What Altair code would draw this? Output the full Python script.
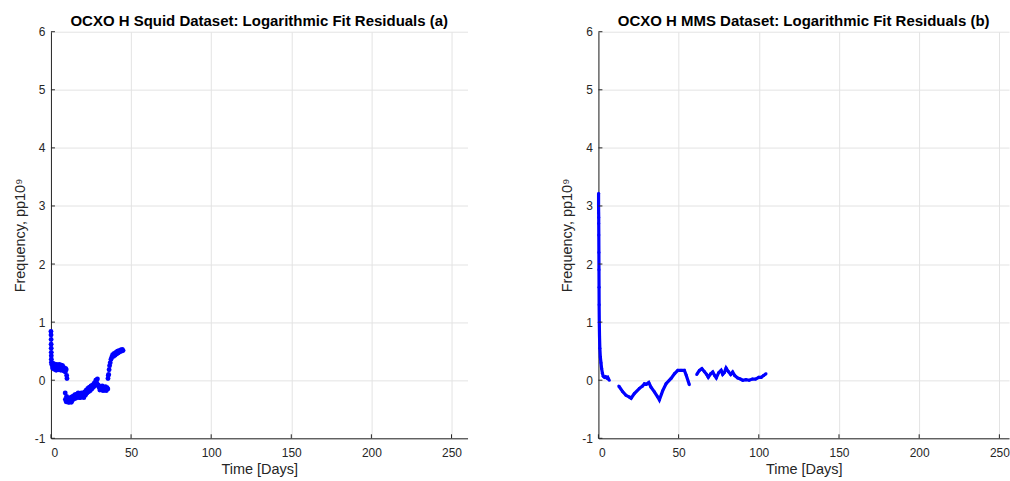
import altair as alt
import pandas as pd

# ---------------- data ----------------
left_days = [0.0, 0.05, 0.1, 0.1, 0.15, 0.2, 0.2, 0.25, 0.3,
             0.5, 1.0, 1.25, 1.5, 2.0, 2.25, 2.5, 3.0, 3.25, 3.5, 4.0, 4.25, 4.5,
             5.0, 5.25, 5.5, 6.0, 6.25, 6.5, 7.0, 7.25, 7.5, 8.0, 8.25, 8.5, 9.0,
             9.25, 9.5, 9.8, 10.0,
             8.9, 9.0, 9.5, 9.75, 10.0, 10.5, 10.75, 11.0, 11.5, 11.75, 12.0, 12.5,
             12.75, 13.0, 13.5, 13.75, 14.0, 14.5, 15.0, 15.5, 16.0, 16.5, 17.0,
             17.5, 18.0, 18.5, 19.0, 19.5, 20.0, 20.5, 21.0, 21.5, 22.0, 22.5,
             23.0, 23.5, 24.0, 24.5, 25.0, 25.5, 26.0, 26.5, 27.0, 27.5, 28.0,
             28.5, 29.0, 29.5, 30.0, 30.5, 31.0, 31.5, 32.0, 32.5, 33.0, 33.5,
             34.0, 34.5, 35.0, 35.5,
             35.6, 35.8, 36.0, 36.3, 36.6, 37.0, 37.5, 38.0, 38.5, 39.0, 39.5,
             40.0, 40.5, 41.0, 41.5, 42.0, 42.5, 43.0, 43.5, 44.0, 44.5, 45.0]
left_vals = [0.84, 0.78, 0.70, 0.62, 0.55, 0.48, 0.42, 0.36, 0.31,
             0.27, 0.21, 0.24, 0.29, 0.19, 0.27, 0.25, 0.20, 0.17, 0.27, 0.22, 0.20, 0.26,
             0.18, 0.27, 0.24, 0.20, 0.17, 0.26, 0.19, 0.25, 0.23, 0.16, 0.20, 0.21, 0.14,
             0.20, 0.18, 0.08, 0.03,
             -0.22, -0.33, -0.37, -0.28, -0.30, -0.36, -0.38, -0.32, -0.38, -0.33, -0.30, -0.35,
             -0.38, -0.29, -0.34, -0.30, -0.27, -0.32, -0.25, -0.31, -0.24, -0.29, -0.22,
             -0.30, -0.25, -0.30, -0.22, -0.28, -0.24, -0.30, -0.20, -0.26, -0.17, -0.22,
             -0.14, -0.20, -0.12, -0.18, -0.10, -0.15, -0.08, -0.12, -0.05, -0.09, 0.00,
             -0.04, 0.02, -0.08, -0.12, -0.17, -0.11, -0.16, -0.10, -0.18, -0.12, -0.17,
             -0.11, -0.18, -0.13, -0.15,
             0.03, 0.08, 0.10, 0.18, 0.25, 0.30, 0.36, 0.40, 0.44, 0.41, 0.46,
             0.43, 0.48, 0.45, 0.50, 0.47, 0.51, 0.49, 0.52, 0.50, 0.53, 0.51]

right_days = [0.1, 0.1, 0.15, 0.2, 0.2, 0.25, 0.3, 0.35, 0.4, 0.45, 0.55, 0.7, 0.9,
              1.2, 1.6, 2.0, 2.5, 3.0, 3.8, 4.5, 5.2, 5.8, 6.3, 6.8,
              12.7, 15.2, 17.2, 19.3, 20.4, 22.4, 25.6, 27.5, 28.7, 30.0, 31.4, 32.8,
              34.9, 37.0, 38.0, 40.1, 42.2, 45.3, 47.4, 49.5, 51.5, 53.6, 54.7, 56.7,
              61.3, 63.0, 64.5, 66.0, 67.5, 68.5, 70.0, 71.3, 72.5, 73.5, 75.0, 76.5,
              77.5, 78.5, 79.6, 81.0, 82.5, 83.7, 85.0, 86.8, 88.5, 90.0, 92.0, 94.0,
              96.0, 98.0, 100.0, 101.5, 103.0, 104.5]
right_vals = [3.22, 3.00, 2.88, 2.80, 2.70, 2.50, 2.20, 1.90, 1.60, 1.30, 1.00, 0.75, 0.55,
              0.40, 0.30, 0.20, 0.12, 0.07, 0.05, 0.06, 0.04, 0.05, 0.02, 0.00,
              -0.10, -0.20, -0.26, -0.29, -0.31, -0.23, -0.14, -0.10, -0.06, -0.07, -0.04, -0.12,
              -0.20, -0.29, -0.34, -0.18, -0.06, 0.03, 0.11, 0.17, 0.17, 0.17, 0.09, -0.08,
              0.10, 0.17, 0.20, 0.15, 0.10, 0.05, 0.11, 0.14, 0.08, 0.04, 0.13, 0.17,
              0.10, 0.13, 0.21, 0.15, 0.10, 0.14, 0.08, 0.04, 0.02, 0.00, 0.01, 0.00,
              0.02, 0.02, 0.05, 0.05, 0.08, 0.11]
right_seg = [1] * 24 + [2] * 24 + [3] * 30

x_ticks = [0, 50, 100, 150, 200, 250]
y_ticks = [-1, 0, 1, 2, 3, 4, 5, 6]

title_a = "OCXO H Squid Dataset: Logarithmic Fit Residuals (a)"
title_b = "OCXO H MMS Dataset: Logarithmic Fit Residuals (b)"
x_title = "Time [Days]"
y_title = "Frequency, pp10⁹"

# ---------------- chart ----------------
BLUE = "#0000ff"
H = 407
FONT = "Liberation Sans"

left_df = pd.DataFrame({"day": left_days, "val": left_vals})
right_df = pd.DataFrame({"day": right_days, "val": right_vals, "seg": right_seg})
xt_df = pd.DataFrame({"day": x_ticks})
yt_df = pd.DataFrame({"val": y_ticks})


def axes(xmax):
    x = alt.X("day:Q", scale=alt.Scale(domain=[0, xmax], nice=False, zero=False),
              axis=alt.Axis(values=x_ticks, title=x_title,
                            labelExpr="'' + datum.value"))
    y = alt.Y("val:Q", scale=alt.Scale(domain=[-1, 6], nice=False, zero=False),
              axis=alt.Axis(values=y_ticks, title=y_title,
                            labelExpr="'' + datum.value"))
    return x, y


def tick_layers(xmax):
    x, y = axes(xmax)
    xt = alt.Chart(xt_df).mark_rule(color="#262626", strokeWidth=1).encode(
        x=x, y=alt.value(H), y2=alt.value(H - 4))
    yt = alt.Chart(yt_df).mark_rule(color="#262626", strokeWidth=1).encode(
        y=y, x=alt.value(0), x2=alt.value(4))
    return xt, yt


def panel_left():
    x, y = axes(260)
    pts = alt.Chart(left_df).mark_circle(size=24, color=BLUE, opacity=1).encode(x=x, y=y)
    xt, yt = tick_layers(260)
    return alt.layer(pts, xt, yt).properties(
        width=417, height=H, title=alt.TitleParams(title_a))


def panel_right():
    x, y = axes(256)
    line = alt.Chart(right_df).mark_line(color=BLUE, strokeWidth=3.2).encode(
        x=x, y=y, detail="seg:N")
    pts = alt.Chart(right_df).mark_circle(size=9, color=BLUE, opacity=1).encode(x=x, y=y)
    xt, yt = tick_layers(256)
    return alt.layer(line, pts, xt, yt).properties(
        width=411, height=H, title=alt.TitleParams(title_b))


chart = alt.hconcat(panel_left(), panel_right(), spacing=92).properties(
    padding={"left": 12, "top": 13.5, "right": 0, "bottom": 0},
    background="white",
).configure_view(stroke=None).configure_axis(
    labelFont=FONT, titleFont=FONT, labelFontSize=12, titleFontSize=14.5,
    labelColor="#262626", titleColor="#262626", titleFontWeight="normal",
    domainColor="#262626", domainWidth=1, ticks=False,
    gridColor="#e3e3e3", gridWidth=1, labelPadding=6,
).configure_axisX(titlePadding=4, labelPadding=9).configure_axisY(titlePadding=7).configure_title(
    font=FONT, fontSize=15, fontWeight="bold", color="#000000", offset=-3, anchor="middle"
)

chart.save("out.html", embed_options={"renderer": "svg", "actions": False})
